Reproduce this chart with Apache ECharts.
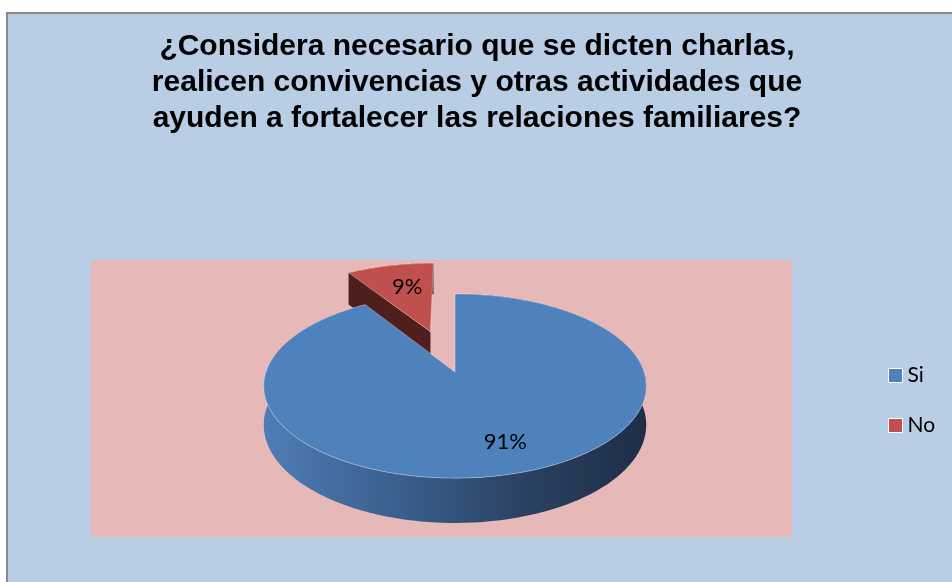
<!DOCTYPE html>
<html>
<head>
<meta charset="utf-8">
<script src="https://cdn.jsdelivr.net/npm/echarts@6/dist/echarts.min.js"></script>
<style>
  html, body { margin: 0; padding: 0; background: #fff; }
  #chart { width: 952px; height: 582px; }
</style>
</head>
<body>
<div id="chart"></div>
<script>
// datos del grafico
var categories = ["Si", "No"];
var values = [91, 9];
var sliceColors = ["#4f81bd", "#c0504d"];
var explode = [0, 0.5];
var labelRadius = [0.72, 0.65];
var titleText = "¿Considera necesario que se dicten charlas,\nrealicen convivencias y otras actividades que\nayuden a fortalecer las relaciones familiares?";

// proyeccion del disco (perspectiva simple)
var CX = 455, CY = 372, RX = 189, RY = 90, K = 0.152, H = 38;
function proj(X, Z, depth) {
  var w = 1 - K * Z;
  return [CX + RX * X / w, CY + (RY * Z + H * depth) / w];
}

function sliceGeom(i) {
  var total = 0, start = 0;
  for (var j = 0; j < values.length; j++) {
    total += values[j];
    if (j < i) start += values[j];
  }
  var a0 = start / total * Math.PI * 2;
  var a1 = (start + values[i]) / total * Math.PI * 2;
  var mid = (a0 + a1) / 2;
  return {
    a0: a0, a1: a1, mid: mid,
    ox: explode[i] * Math.sin(mid),
    oz: -explode[i] * Math.cos(mid),
    pct: Math.round(values[i] / total * 100) + "%"
  };
}

function arc(g, depth) {
  var pts = [];
  var n = Math.max(4, Math.ceil((g.a1 - g.a0) / (Math.PI / 180)));
  for (var s = 0; s <= n; s++) {
    var t = g.a0 + (g.a1 - g.a0) * s / n;
    pts.push(proj(g.ox + Math.sin(t), g.oz - Math.cos(t), depth));
  }
  return pts;
}

function radialFace(g, a) {
  return [
    proj(g.ox, g.oz, 0),
    proj(g.ox + Math.sin(a), g.oz - Math.cos(a), 0),
    proj(g.ox + Math.sin(a), g.oz - Math.cos(a), 1),
    proj(g.ox, g.oz, 1)
  ];
}

function makeRender(i) {
  return function (params, api) {
    var g = sliceGeom(i);
    var top = arc(g, 0);
    var bottom = arc(g, 1);
    var children = [];
    var wallFill = i === 0
      ? new echarts.graphic.LinearGradient(0, 0, 1, 0, [
          { offset: 0, color: "#4e7db5" },
          { offset: 0.35, color: "#3a5f8e" },
          { offset: 0.7, color: "#29405f" },
          { offset: 1, color: "#1d2e48" }
        ])
      : "#4e1f1d";
    children.push({
      type: "polygon",
      shape: { points: top.concat(bottom.slice().reverse()) },
      style: { fill: wallFill }
    });
    // caras radiales visibles
    if (-Math.sin(g.a0) > 0.01) {
      children.push({
        type: "polygon",
        shape: { points: radialFace(g, g.a0) },
        style: { fill: i === 0 ? "#2c4a70" : "#4e1f1d" }
      });
    }
    if (Math.sin(g.a1) > 0.01) {
      children.push({
        type: "polygon",
        shape: { points: radialFace(g, g.a1) },
        style: { fill: i === 0 ? "#2c4a70" : "#4e1f1d" }
      });
    }
    children.push({
      type: "polygon",
      shape: { points: [proj(g.ox, g.oz, 0)].concat(top) },
      style: { fill: sliceColors[i], stroke: "rgba(255,255,255,0.35)", lineWidth: 1 }
    });
    var r = labelRadius[i];
    var lp = proj(g.ox + r * Math.sin(g.mid), g.oz - r * Math.cos(g.mid), 0);
    children.push({
      type: "text",
      style: {
        text: g.pct, x: lp[0] + (i === 0 ? 8 : 4), y: lp[1], align: "center", verticalAlign: "middle",
        fill: "#000", fontSize: 22, fontFamily: "Lato"
      }
    });
    return { type: "group", children: children };
  };
}

var myChart = echarts.init(document.getElementById("chart"));
var series = categories.map(function (name, i) {
  return {
    name: name,
    type: "custom",
    coordinateSystem: "none",
    z: i === 0 ? 3 : 2,
    itemStyle: { color: sliceColors[i] },
    renderItem: makeRender(i),
    data: [[values[i]]]
  };
});

myChart.setOption({
  backgroundColor: "#ffffff",
  animation: false,
  graphic: [
    {
      type: "rect", z: 0,
      shape: { x: 7, y: 13, width: 980, height: 600 },
      style: { fill: "#b9cde5", stroke: "#8a8a8a", lineWidth: 2 }
    },
    {
      type: "rect", z: 1,
      shape: { x: 91, y: 260, width: 701, height: 277 },
      style: { fill: "#e6b9b8" }
    }
  ],
  title: {
    text: titleText,
    left: 472,
    top: 24,
    textAlign: "center",
    textStyle: {
      fontFamily: "Liberation Sans",
      fontWeight: "bold",
      fontSize: 30,
      lineHeight: 36,
      color: "#000"
    }
  },
  legend: {
    data: categories,
    orient: "vertical",
    left: 888,
    top: 365,
    padding: 0,
    icon: "rect",
    itemWidth: 14,
    itemHeight: 14,
    itemGap: 29,
    itemStyle: { borderColor: "#ffffff", borderWidth: 1 },
    textStyle: { fontFamily: "Lato", fontSize: 21, lineHeight: 20, color: "#000" }
  },
  series: series
});
window.addEventListener("resize", function () {
  myChart.resize();
});
</script>
</body>
</html>
